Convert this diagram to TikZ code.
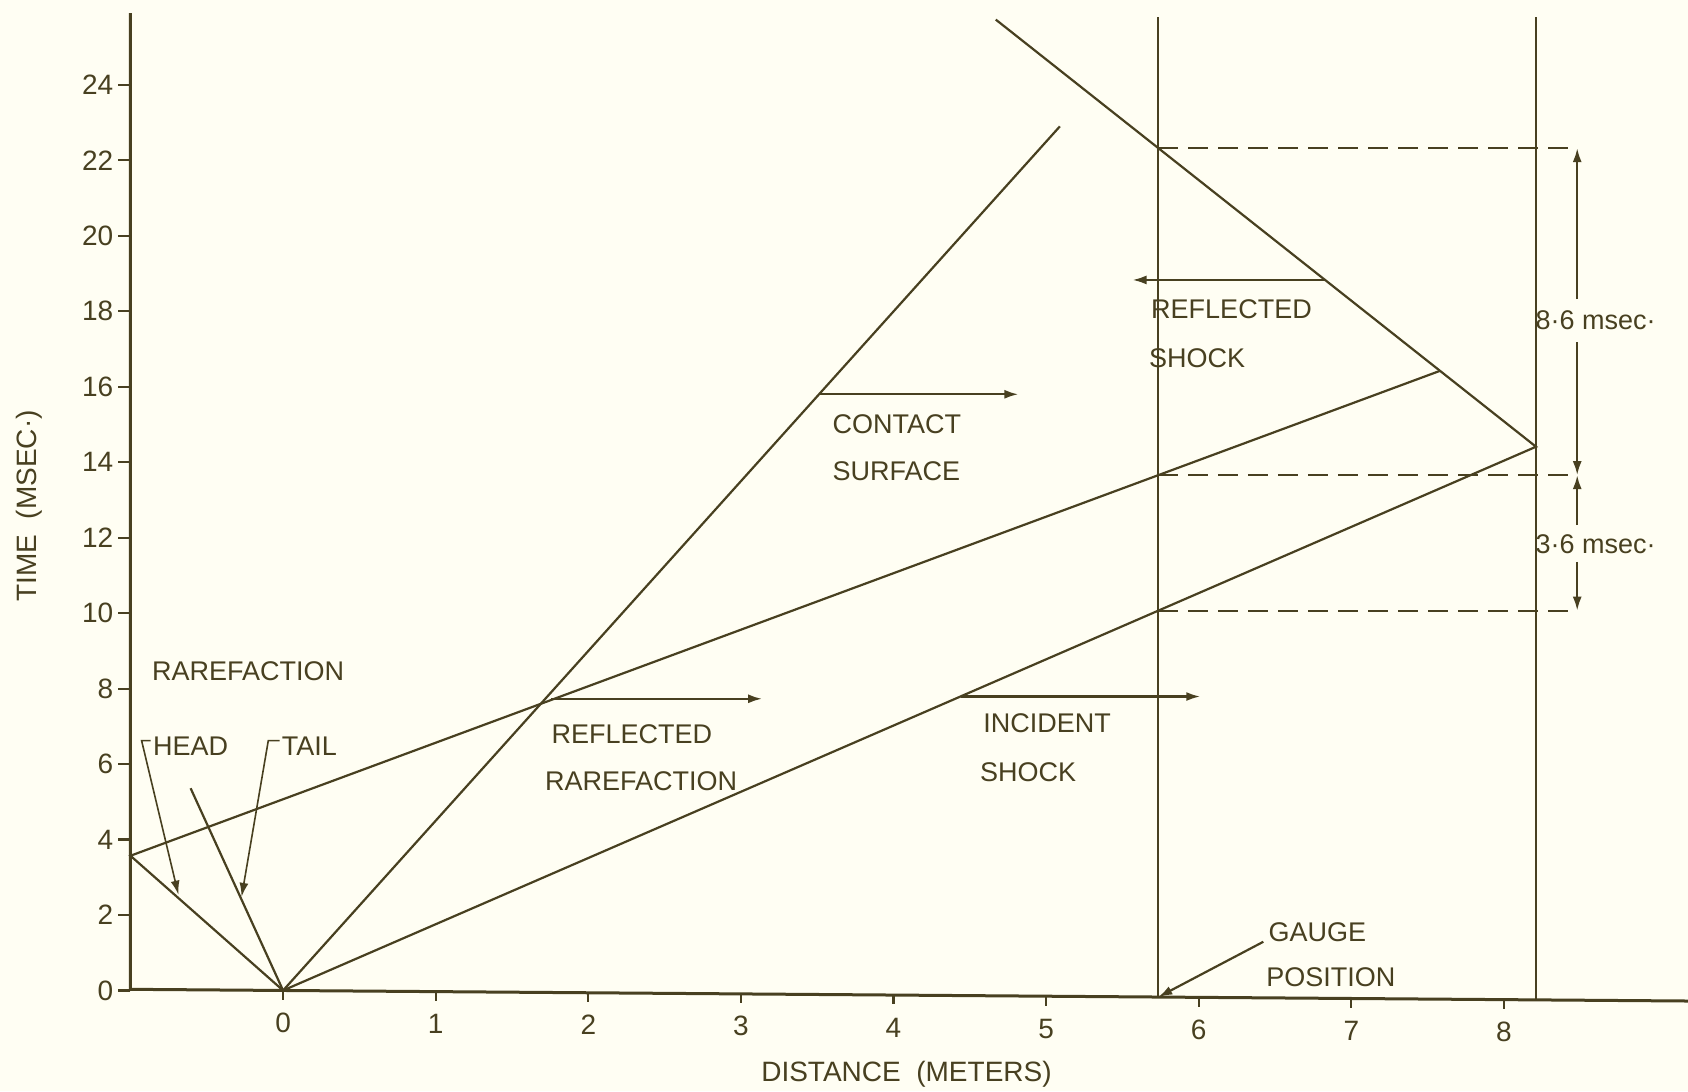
\documentclass[tikz,border=0pt]{standalone}
\usepackage{fontspec}
\setmainfont{Liberation Sans}
\usetikzlibrary{arrows.meta}
\definecolor{ink}{RGB}{72,64,32}
\definecolor{paper}{RGB}{255,254,243}
\begin{document}
\begin{tikzpicture}[x=76.3pt,y=18.865pt,
  inkline/.style={draw=ink,line width=1.1pt},
  axisline/.style={draw=ink,line width=1.5pt},
  lbl/.style={text=ink,font=\fontsize{13.5}{15}\selectfont,inner sep=0pt},
  ticklbl/.style={text=ink,font=\fontsize{14}{16}\selectfont,inner sep=0pt},
  arr/.style={inkline,-{Latex[length=7pt,width=4.5pt]}},
  dashline/.style={inkline,dash pattern=on 10pt off 5pt},
]
\fill[paper] (-1.855,-2.666) rectangle (9.206,26.25);
\useasboundingbox (-1.855,-2.666) rectangle (9.206,26.25);

% key points
\coordinate (O) at (0,0);
\coordinate (AL) at (-1,0.03);
\coordinate (AT) at (-1,25.9);
\coordinate (AR) at (9.206,-0.28);
\coordinate (H0) at (-1,3.57);
\coordinate (TT) at (-0.606,5.36);
\coordinate (W) at (8.21,14.41);
\coordinate (RS) at (4.67,25.73);
\coordinate (RR) at (7.58,16.42);
\coordinate (CS) at (5.09,22.9);
\coordinate (G0) at (5.735,-0.174);
\coordinate (GT) at (5.735,25.8);
\coordinate (W0) at (8.21,-0.25);
\coordinate (WT) at (8.21,25.8);
\coordinate (G1) at (5.735,10.065);
\coordinate (G2) at (5.735,13.657);
\coordinate (G3) at (5.735,22.325);
\coordinate (D1) at (8.48,10.065);
\coordinate (D2) at (8.48,13.657);
\coordinate (D3) at (8.48,22.325);

% axes
\draw[axisline] (AT) -- (AL) -- (AR);
\foreach \t in {0,2,...,24} {
  \draw[inkline] (-1,\t) -- (-1.085,\t);
  \node[ticklbl,anchor=east] (yl\t) at (-1.11,\t) {\t};
}
\foreach \m in {0,...,8} {
  \draw[inkline] (\m,-0.0303*\m) -- (\m,-0.0303*\m-0.25);
  \node[ticklbl] (xl\m) at (\m,-0.86-0.0303*\m) {\m};
}
\node[ticklbl] (xtitle) at (4.085,-2.225) {DISTANCE\ \ (METERS)};
\node[ticklbl,rotate=90] (ytitle) at (-1.665,12.84) {TIME\ \ (MSEC·)};

% wave lines
\draw[inkline] (O) -- (H0) -- (RR);
\draw[inkline] (O) -- (TT);
\draw[inkline] (O) -- (CS);
\draw[inkline] (O) -- (W) -- (RS);
\draw[inkline] (G0) -- (GT);
\draw[inkline] (W0) -- (WT);

% dashed lines
\draw[dashline] (G3) -- (D3);
\draw[dashline] (G2) -- (D2);
\draw[dashline] (G1) -- (D1);

% dimension arrows
\draw[arr] (8.48,18.32) -- (D3);
\draw[arr] (8.48,17.18) -- (D2);
\draw[arr] (8.48,12.33) -- (D2);
\draw[arr] (8.48,11.36) -- (D1);
\node[lbl,anchor=west] (d86) at (8.205,17.77) {8·6 msec·};
\node[lbl,anchor=west] (d36) at (8.205,11.84) {3·6 msec·};

% rarefaction labels
\node[lbl,anchor=west] (rare) at (-0.861,8.45) {RAREFACTION};
\node[lbl,anchor=west] (head) at (-0.855,6.46) {HEAD};
\node[lbl,anchor=west] (tail) at (-0.01,6.46) {TAIL};
\coordinate (hc) at (-0.927,6.62);
\coordinate (ht) at (-0.686,2.54);
\coordinate (tc) at (-0.097,6.62);
\coordinate (tt) at (-0.272,2.48);
\draw[arr,line width=0.8pt] ([xshift=-1pt]head.west |- hc) -- (hc) -- (ht);
\draw[arr,line width=0.8pt] ([xshift=-1pt]tail.west |- tc) -- (tc) -- (tt);

% reflected rarefaction
\node[lbl,anchor=west] (rr1) at (1.757,6.79) {REFLECTED};
\node[lbl,anchor=west] (rr2) at (1.714,5.535) {RAREFACTION};
\coordinate (rra) at (1.757,7.73);
\coordinate (rrb) at (3.139,7.73);
\draw[arr] (rra) -- (rrb);

% contact surface
\node[lbl,anchor=west] (cs1) at (3.598,15.0) {CONTACT};
\node[lbl,anchor=west] (cs2) at (3.598,13.75) {SURFACE};
\coordinate (csa) at (3.511,15.8);
\coordinate (csb) at (4.818,15.8);
\draw[arr] (csa) -- (csb);

% incident shock
\node[lbl,anchor=west] (is1) at (4.586,7.08) {INCIDENT};
\node[lbl,anchor=west] (is2) at (4.564,5.79) {SHOCK};
\coordinate (isa) at (4.44,7.79);
\coordinate (isb) at (6.01,7.79);
\draw[arr] (isa) -- (isb);

% reflected shock
\node[lbl,anchor=west] (rs1) at (5.686,18.06) {REFLECTED};
\node[lbl,anchor=west] (rs2) at (5.672,16.75) {SHOCK};
\coordinate (rsa) at (6.83,18.83);
\coordinate (rsb) at (5.566,18.83);
\draw[arr] (rsa) -- (rsb);

% gauge position
\node[lbl,anchor=west] (g1) at (6.455,1.54) {GAUGE};
\node[lbl,anchor=west] (g2) at (6.44,0.34) {POSITION};
\coordinate (gs) at (6.423,1.29);
\draw[arr] (gs) -- (G0);
\end{tikzpicture}
\end{document}
